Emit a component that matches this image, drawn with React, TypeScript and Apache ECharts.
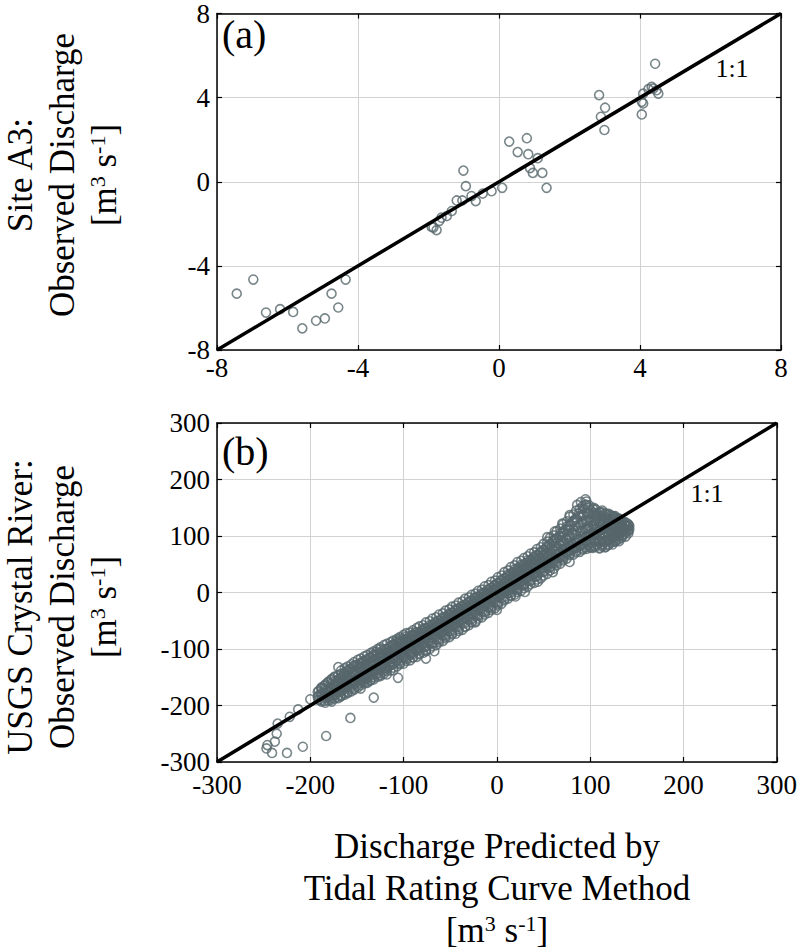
import React, { useEffect, useRef } from 'react';
import * as echarts from 'echarts';

// Panel (a): Site A3 — predicted (x) vs observed (y) discharge
const siteA3Predicted = [
  -7.44, -6.97, -6.61, -6.21, -5.84, -5.58, -5.19, -4.94, -4.56, -4.75, -4.35,
  -1.01, -0.94, -1.2, -1.04, -0.78, -0.66, -0.46, -0.21, 0.09, -1.34, -1.48, -1.63, -1.69, -1.86, -1.77, -1.91,
  0.29, 0.79, 0.53, 0.83, 1.1, 0.88, 0.96, 1.23, 1.35,
  2.84, 3.01, 2.89, 2.99,
  4.43, 4.09, 4.05, 4.09, 4.05, 4.24, 4.33, 4.47, 4.52, 4.38,
];
const siteA3Observed = [
  -5.32, -4.65, -6.22, -6.06, -6.19, -6.97, -6.61, -6.5, -5.98, -5.32, -4.65,
  0.53, -0.21, -0.89, -0.89, -0.68, -0.92, -0.56, -0.45, -0.29, -1.39, -1.63, -1.71, -1.86, -2.18, -2.3, -2.15,
  1.91, 2.07, 1.41, 1.31, 1.12, 0.65, 0.42, 0.42, -0.29,
  4.12, 3.52, 3.09, 2.46,
  5.61, 4.19, 3.8, 3.72, 3.2, 4.4, 4.51, 4.35, 4.19, 4.43,
];

// Panel (b): USGS Crystal River — each row: predicted value, then observed values read at that prediction
const crystalRows = [
  [-192, -185, -176], [-191, -190, -182, -174], [-188, -193, -184, -178, -170], [-188, -190, -170, -180],
  [-185, -178, -165, -192], [-184, -195, -186, -180, -171, -163], [-181, -186, -172, -160], [-181, -191, -182, -176, -167, -158],
  [-178, -182, -168, -155, -190], [-177, -193, -186, -177, -171, -161, -153], [-174, -180, -162, -150, -170], [-174, -188, -182, -173, -165, -157, -149],
  [-171, -176, -158, -185, -166], [-170, -187, -177, -171, -162, -154, -146], [-167, -172, -150, -160, -182], [-167, -184, -175, -169, -159, -153, -144, -138],
  [-164, -168, -145, -178, -156], [-163, -181, -171, -166, -156, -148, -142, -134], [-160, -165, -150, -140, -176], [-160, -178, -168, -162, -152, -147, -137, -131],
  [-157, -170, -160, -136, -148], [-156, -175, -165, -157, -151, -141, -134, -127], [-153, -158, -142, -170, -130], [-153, -172, -162, -156, -146, -140, -130, -123],
  [-150, -165, -152, -128, -140], [-149, -168, -158, -153, -143, -135, -129, -119], [-146, -160, -135, -148, -126, -170], [-146, -164, -156, -148, -140, -134, -124, -117],
  [-143, -150, -138, -122, -158], [-142, -161, -153, -147, -137, -129, -121, -113], [-139, -145, -130, -118, -160, -152], [-139, -158, -150, -142, -136, -126, -120, -111],
  [-136, -142, -126, -156, -115], [-135, -155, -147, -141, -131, -123, -115, -107], [-132, -138, -120, -150, -128, -110], [-132, -154, -144, -136, -130, -120, -112, -104],
  [-129, -135, -145, -118, -105], [-128, -149, -143, -133, -125, -119, -109, -100], [-125, -130, -112, -148, -122, -100], [-125, -146, -138, -132, -122, -114, -107, -97],
  [-122, -128, -140, -108, -116], [-121, -144, -134, -128, -118, -112, -101, -93], [-118, -122, -100, -135, -112, -145], [-118, -139, -133, -123, -117, -107, -100, -91],
  [-115, -118, -130, -96, -108], [-114, -138, -128, -122, -112, -105, -95, -88], [-111, -114, -126, -92, -104, -138], [-111, -133, -127, -117, -111, -100, -94, -85],
  [-108, -112, -98, -120, -86], [-107, -131, -121, -115, -105, -99, -89, -82], [-104, -108, -90, -125, -100, -82], [-104, -127, -121, -111, -103, -96, -86, -79],
  [-101, -104, -115, -88, -96], [-100, -126, -116, -109, -99, -93, -83, -75], [-97, -100, -84, -118, -92, -78], [-97, -121, -115, -105, -98, -88, -82, -72],
  [-94, -96, -110, -82, -88], [-93, -120, -109, -103, -93, -87, -77, -71], [-90, -94, -75, -105, -86, -115], [-90, -115, -109, -98, -92, -82, -76, -67],
  [-87, -90, -100, -78, -70], [-86, -114, -103, -97, -87, -81, -71, -63], [-83, -86, -72, -98, -80, -108], [-83, -109, -102, -92, -86, -76, -70, -60],
  [-80, -82, -92, -68, -76], [-79, -107, -97, -90, -80, -74, -64, -58], [-76, -80, -64, -95, -72, -104], [-76, -102, -96, -85, -79, -69, -63, -53],
  [-73, -75, -86, -62, -68], [-72, -100, -90, -84, -74, -68, -58, -51], [-69, -72, -58, -90, -80, -66], [-69, -95, -89, -79, -73, -63, -57, -46],
  [-66, -68, -78, -54, -62], [-65, -93, -83, -77, -67, -61, -51, -44], [-62, -64, -50, -85, -72, -56], [-62, -88, -82, -72, -66, -56, -50, -39],
  [-59, -62, -70, -46, -54], [-58, -86, -76, -70, -60, -54, -44, -37], [-55, -58, -44, -78, -66, -50], [-55, -81, -75, -65, -59, -49, -43, -32],
  [-52, -55, -62, -40, -48], [-51, -79, -69, -63, -53, -47, -37, -30], [-48, -50, -36, -72, -58, -42], [-48, -74, -68, -58, -52, -42, -36, -25],
  [-45, -47, -55, -32, -40], [-44, -73, -62, -56, -46, -40, -30, -23], [-41, -44, -28, -65, -52, -36], [-41, -68, -61, -51, -45, -35, -29, -18],
  [-38, -40, -48, -25, -32], [-37, -66, -55, -49, -39, -33, -23, -16], [-34, -36, -22, -60, -45, -28], [-34, -61, -54, -44, -38, -28, -22, -11],
  [-31, -32, -40, -18, -26], [-30, -58, -48, -42, -32, -26, -16, -9], [-27, -30, -14, -52, -38, -22], [-27, -53, -47, -37, -31, -21, -15, -4],
  [-24, -25, -34, -10, -18], [-23, -51, -41, -35, -25, -19, -9, -2], [-20, -22, -8, -42, -30, -14], [-20, -46, -40, -30, -24, -14, -7, 3],
  [-17, -18, -26, -4, -10], [-16, -44, -34, -28, -18, -12, -1, 5], [-13, -14, 0, -35, -22, -6], [-13, -39, -33, -23, -17, -6, 0, 11],
  [-10, -10, -18, 4, -2], [-9, -36, -26, -20, -10, -4, 6, 13], [-6, -8, 8, -28, -15, 2], [-6, -31, -25, -15, -9, 1, 8, 19],
  [-3, -2, -10, 12, 5], [-2, -28, -18, -12, -2, 4, 14, 21], [1, 0, 16, -20, -8, 8], [1, -23, -17, -7, 1, 10, 16, 27],
  [4, 5, -4, 20, 12], [5, -20, -10, -4, 6, 12, 23, 30], [8, 8, 24, -12, 0, 16], [8, -14, -8, 2, 8, 18, 25, 36],
  [11, 12, 3, 28, 20], [12, -11, -1, 5, 15, 22, 32, 39], [15, 15, 32, -5, 8, 24], [15, -6, 0, 10, 17, 27, 34, 45],
  [18, 20, 10, 36, 28], [19, -4, 6, 13, 23, 30, 41, 48], [22, 22, 40, 4, 14, 32], [22, 1, 7, 18, 25, 36, 43, 54],
  [25, 28, 18, 45, 36], [26, 3, 13, 20, 31, 38, 49, 56], [29, 30, 48, 12, 22, 40], [29, 8, 14, 25, 32, 43, 50, 61],
  [32, 34, 25, 52, 44], [33, 10, 21, 28, 39, 46, 57, 64], [36, 38, 56, 20, 30, 48], [36, 15, 22, 33, 40, 51, 58, 69],
  [39, 42, 32, 60, 50], [40, 17, 28, 35, 46, 53, 64, 71], [43, 45, 65, 28, 36, 55], [43, 23, 30, 41, 48, 59, 66, 77],
  [46, 50, 40, 70, 60], [47, 25, 36, 43, 54, 61, 73, 80], [50, 52, 75, 36, 44, 64], [50, 30, 37, 48, 56, 67, 75, 86],
  [53, 56, 46, 80, 68], [54, 33, 44, 51, 63, 71, 82, 90], [57, 60, 84, 44, 52, 72], [57, 39, 46, 58, 66, 78, 86, 97],
  [60, 64, 54, 90, 76], [61, 42, 53, 61, 73, 81, 93, 101], [64, 68, 95, 52, 60, 82], [64, 48, 55, 67, 76, 88, 96, 108],
  [67, 72, 62, 100, 86], [68, 51, 62, 70, 83, 92, 105, 113], [71, 75, 105, 60, 68, 90], [71, 57, 64, 77, 86, 99, 108, 121],
  [74, 78, 70, 112, 95], [75, 60, 71, 80, 93, 103, 117, 126], [78, 82, 118, 68, 75, 100], [78, 66, 73, 86, 96, 110, 120, 134],
  [81, 85, 76, 125, 105], [82, 67, 79, 88, 102, 112, 127, 138], [85, 88, 132, 74, 80, 110], [85, 71, 79, 93, 103, 118, 129, 145],
  [88, 92, 82, 140, 115], [89, 72, 84, 94, 109, 120, 136, 148], [92, 95, 148, 78, 86, 122, 135], [92, 76, 85, 99, 110, 125, 137, 153],
  [95, 98, 155, 80, 90, 128, 112], [96, 77, 90, 100, 115, 126, 142, 155, 161], [98, 100, 150, 84, 140, 118], [99, 80, 89, 103, 114, 129, 140, 154],
  [101, 102, 88, 145, 125, 110, 80], [103, 79, 92, 102, 117, 127, 141, 148], [104, 105, 138, 92, 120, 82, 150], [106, 81, 90, 103, 113, 127, 136, 147],
  [107, 108, 130, 95, 140, 85, 115], [110, 79, 92, 101, 114, 123, 135, 142], [110, 110, 125, 90, 142, 100, 78], [113, 82, 90, 103, 111, 123, 131, 142],
  [113, 112, 135, 95, 120, 85, 145], [117, 81, 93, 101, 113, 120, 131, 138], [116, 115, 128, 100, 140, 90, 80], [120, 85, 92, 104, 111, 122, 129, 139],
  [119, 118, 132, 105, 92, 138, 84], [124, 85, 96, 103, 114, 120, 130, 135], [122, 120, 128, 108, 95, 136, 88], [127, 90, 96, 106, 112, 122, 127, 135],
  [125, 122, 130, 110, 98, 135, 90], [131, 91, 101, 106, 115, 120, 128, 131], [128, 124, 115, 102, 132, 92], [134, 97, 101, 110, 114, 122, 126],
  [131, 125, 112, 105, 130, 95], [138, 99, 107, 111, 119, 123], [134, 118, 126, 108, 100], [141, 105, 109, 117, 120],
  [137, 120, 112, 125, 104], [140, 116, 122, 110], [142, 118, 112],
];
const crystalOutliers = [
  [-247, -276], [-246, -270], [-241, -284], [-238, -264], [-236, -250], [-235, -232],
  [-225, -284], [-222, -220], [-213, -207], [-208, -273], [-200, -189], [-188, -168],
  [-183, -254], [-170, -132], [-157, -222], [-132, -186], [-106, -151], [-76, -117],
  [-67, -104], [-23, -53], [0, -31], [20, -7], [30, 1], [44, 19], [60, 36], [78, 54],
  [54, 98], [62, 108], [70, 122], [78, 137], [86, 155], [90, 160], [95, 165],
];

const FONT = "'Liberation Serif', 'Times New Roman', serif";
const MARK = '#56666c';

function panelAxes(gridIndex: number, min: number, max: number, interval: number, xMargin: number) {
  const tick = { show: true, inside: true, length: 5, lineStyle: { color: '#000', width: 1.2 } };
  const line = { show: true, onZero: false, lineStyle: { color: '#000', width: 1.5 } };
  const split = { show: true, lineStyle: { color: '#d2d2d2', width: 1 } };
  const label = { color: '#000', fontFamily: FONT, fontSize: 27 };
  const x = [
    { type: 'value', gridIndex, min, max, interval, position: 'bottom', axisLine: line, axisTick: tick, splitLine: split, axisLabel: { ...label, margin: xMargin } },
    { type: 'value', gridIndex, min, max, interval, position: 'top', axisLine: line, axisTick: tick, splitLine: { show: false }, axisLabel: { show: false } },
  ];
  const y = [
    { type: 'value', gridIndex, min, max, interval, position: 'left', axisLine: line, axisTick: tick, splitLine: split, axisLabel: { ...label, margin: 7 } },
    { type: 'value', gridIndex, min, max, interval, position: 'right', axisLine: line, axisTick: tick, splitLine: { show: false }, axisLabel: { show: false } },
  ];
  return { x, y };
}

function vText(text: string, x: number, y: number, rich?: any) {
  return {
    type: 'text', x, y, rotation: Math.PI / 2,
    style: {
      text, fill: '#000', font: `35px ${FONT}`, fontSize: 35, fontFamily: FONT,
      align: 'center', verticalAlign: 'middle', textAlign: 'center', textVerticalAlign: 'middle',
      rich,
    },
  };
}
function hText(text: string, x: number, y: number, size: number, align = 'center', rich?: any) {
  return {
    type: 'text', x, y,
    style: {
      text, fill: '#000', font: `${size}px ${FONT}`, fontSize: size, fontFamily: FONT,
      align, verticalAlign: 'middle', textAlign: align, textVerticalAlign: 'middle',
      rich,
    },
  };
}

const unitRich = {
  n: { fontSize: 35, fontFamily: FONT, fill: '#000', color: '#000' },
  s: { fontSize: 22, fontFamily: FONT, fill: '#000', color: '#000', verticalAlign: 'top' },
};
const unitText = '{n|[m}{s|3}{n| s}{s|-1}{n|]}';

export default function App() {
  const ref = useRef<HTMLDivElement>(null);
  useEffect(() => {
    const chart = echarts.init(ref.current!, null, { renderer: 'svg' });
    const a = panelAxes(0, -8, 8, 4, 4);
    const b = panelAxes(1, -300, 300, 100, 9);
    const siteA3Data = siteA3Predicted.map((v, i) => [v, siteA3Observed[i]]);
    const crystalData: number[][] = [];
    crystalRows.forEach((row) => {
      for (let i = 1; i < row.length; i++) crystalData.push([row[0], row[i]]);
    });
    crystalOutliers.forEach((p) => crystalData.push(p));

    const scatterStyle = { color: 'rgba(0,0,0,0)', borderColor: MARK, borderWidth: 1.6 };
    const option: any = {
      animation: false,
      backgroundColor: '#fff',
      grid: [
        { left: 217, top: 11, width: 564, height: 339 },
        { left: 217, top: 423, width: 564, height: 339 },
      ],
      xAxis: [...a.x, ...b.x],
      yAxis: [...a.y, ...b.y],
      series: [
        { type: 'scatter', xAxisIndex: 0, yAxisIndex: 0, data: siteA3Data, symbol: 'circle', symbolSize: 9, itemStyle: scatterStyle, z: 2, silent: true },
        { type: 'line', xAxisIndex: 0, yAxisIndex: 0, data: [[-8, -8], [8, 8]], symbol: 'none', lineStyle: { color: '#000', width: 3.5 }, z: 3, silent: true },
        { type: 'scatter', xAxisIndex: 2, yAxisIndex: 2, data: crystalData, symbol: 'circle', symbolSize: 9, itemStyle: scatterStyle, z: 2, silent: true, large: false, progressive: 0 },
        { type: 'line', xAxisIndex: 2, yAxisIndex: 2, data: [[-300, -300], [300, 300]], symbol: 'none', lineStyle: { color: '#000', width: 3.5 }, z: 3, silent: true },
      ],
      graphic: [
        hText('(a)', 222, 34, 40, 'left'),
        hText('1:1', 732, 68, 26),
        hText('(b)', 222, 451, 40, 'left'),
        hText('1:1', 707, 493, 26),
        vText('Site A3:', 20, 175),
        vText('Observed Discharge', 62, 175),
        vText(unitText, 104, 175, unitRich),
        vText('USGS Crystal River:', 20, 607),
        vText('Observed Discharge', 62, 607),
        vText(unitText, 104, 607, unitRich),
        hText('Discharge Predicted by', 497, 846, 35),
        hText('Tidal Rating Curve Method', 497, 888, 35),
        hText(unitText, 497, 930, 35, 'center', unitRich),
      ],
    };
    chart.setOption(option);
    return () => chart.dispose();
  }, []);
  return (
    <div
      ref={ref}
      style={{ position: 'fixed', left: 0, top: 0, width: 800, height: 949, background: '#fff' }}
    />
  );
}
